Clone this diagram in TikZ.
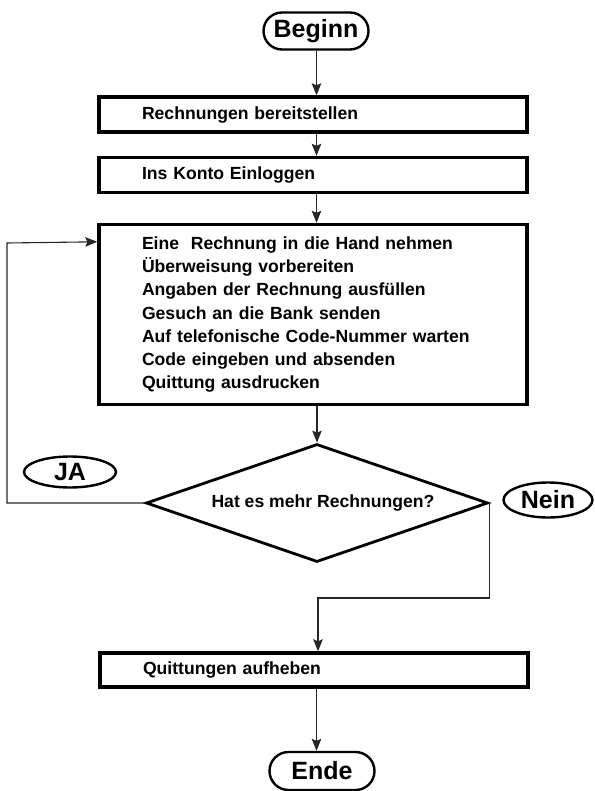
\documentclass[tikz,border=0pt]{standalone}
\usepackage{fontspec}
\setmainfont{Liberation Sans}
\usetikzlibrary{shapes.geometric,shapes.misc,arrows.meta,calc}
\begin{document}
\begin{tikzpicture}[x=1pt,y=-1pt,
  font=\bfseries\fontsize{17.6pt}{23.2pt}\selectfont,
  box/.style={draw,line width=3.4pt,rectangle,minimum width=428pt,text width=342pt,inner xsep=43pt,inner ysep=0pt,align=left},
  term/.style={draw,line width=2.4pt,rounded rectangle,minimum width=105pt,minimum height=37pt,inner sep=0pt,font=\bfseries\fontsize{25pt}{28pt}\selectfont},
  oval/.style={draw,line width=2.4pt,ellipse,inner sep=0pt,font=\bfseries\fontsize{25pt}{28pt}\selectfont},
  conn/.style={line width=1.1pt,black!85,-{Stealth[length=12pt,width=9.5pt,inset=2pt]}},
  plain/.style={line width=1.1pt,black!85}]
\useasboundingbox (0,0) rectangle (594,791);
\coordinate (spine) at (316.5,0);
\node[term] (beginn) at (316,31) {Beginn};
\node[box,minimum height=35pt] (b1) at (313,114.5) {Rechnungen bereitstellen};
\node[box,minimum height=35pt] (b2) at (313,175) {Ins Konto Einloggen};
\node[box,minimum height=180pt] (b3) at (313,314.5) {Eine\ \ Rechnung in die Hand nehmen\\Überweisung vorbereiten\\Angaben der Rechnung ausfüllen\\Gesuch an die Bank senden\\Auf telefonische Code-Nummer warten\\Code eingeben und absenden\\Quittung ausdrucken};
\node[draw,diamond,line width=2.8pt,minimum width=342pt,minimum height=118pt,inner sep=0pt,aspect=3] (dia) at (317,503) {\hspace{12pt}Hat es mehr Rechnungen?};
\node[oval,minimum width=92pt,minimum height=31pt] (ja) at (70,472) {JA};
\node[oval,minimum width=89pt,minimum height=35pt] (nein) at (548,500) {Nein};
\node[box,minimum height=34pt] (b4) at (314,670) {Quittungen aufheben};
\node[term,minimum height=38pt] (ende) at (322,771) {Ende};
\coordinate (la) at (7,503);
\coordinate (lb) at (7,243);
\coordinate (in3) at ([yshift=-19pt]b3.north west);
\coordinate (nb) at (318,598);
\draw[conn] (beginn.south -| spine) -- (spine |- b1.north);
\draw[conn] (b1.south -| spine) -- (spine |- b2.north);
\draw[conn] (b2.south -| spine) -- (spine |- b3.north);
\draw[conn] (b3.south -| dia.north) -- (dia.north);
\draw[conn] (dia.west) -- (la) -- (lb) -- (in3);
\draw[conn] (dia.east) |- (nb) -- (nb |- b4.north);
\draw[conn] (b4.south -| spine) -- (spine |- ende.north);
\end{tikzpicture}
\end{document}
